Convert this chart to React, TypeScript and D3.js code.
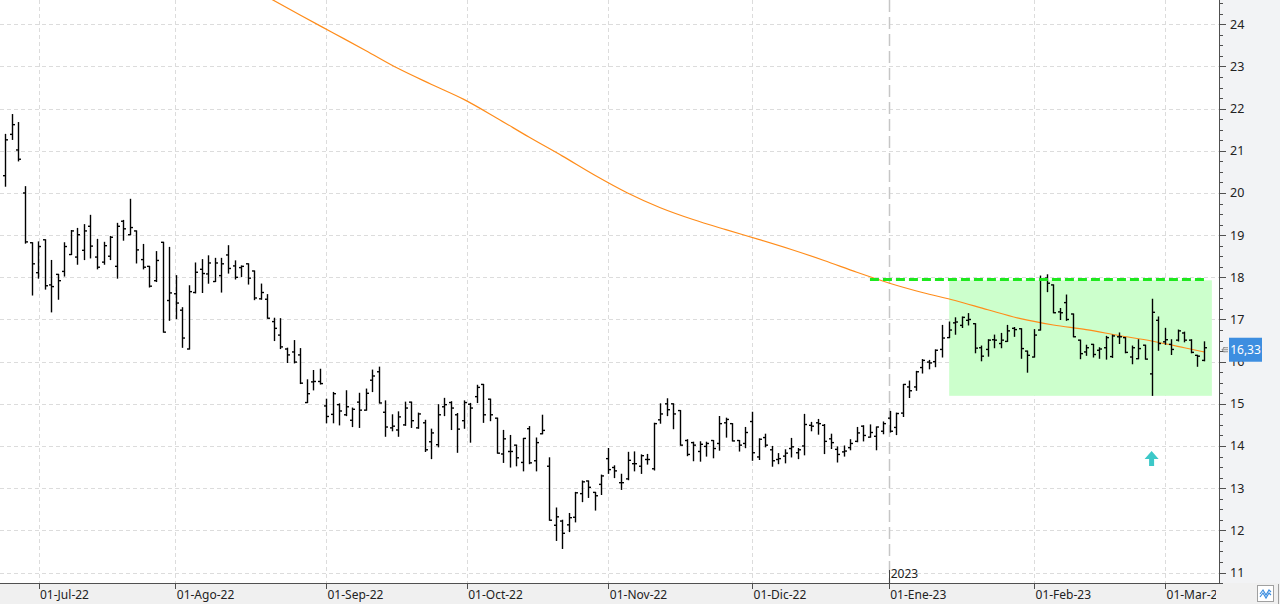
import React from "react";
import * as d3 from "d3";

const W = 1280;
const H = 604;

// OHLC per trading day (24-Jun-2022 .. 09-Mar-2023)
const opens = [
  20.41, 21.39, 21.02, 20.0, 18.82, 18.11, 18.89, 17.82, 18.07, 18.14,
  18.54, 18.48, 18.64, 19.21, 18.48, 18.36, 18.5, 18.26, 19.33, 19.01,
  19.1, 18.42, 18.26, 17.92, 18.83, 17.45, 17.61, 17.22, 16.3, 17.64,
  18.19, 18.08, 17.9, 18.04, 18.53, 18.27, 18.23, 18.32, 18.15, 17.49,
  17.48, 16.95, 16.63, 16.3, 16.23, 16.16, 15.03, 15.52, 15.53, 14.95,
  14.75, 14.98, 14.74, 14.61, 15.04, 14.85, 15.56, 15.76, 14.8, 14.43,
  14.38, 14.5, 15.04, 14.43, 14.55, 14.1, 14.03, 14.93, 15.03, 14.74,
  14.6, 14.99, 15.17, 15.46, 15.11, 14.66, 13.81, 13.87, 14.02, 13.61,
  14.41, 13.65, 14.29, 13.52, 12.12, 12.22, 12.13, 12.31, 12.87, 13.17,
  12.9, 13.09, 13.7, 13.49, 13.13, 13.22, 13.58, 13.52, 13.68, 13.46,
  14.62, 15.0, 15.0, 14.84, 14.13, 14.08, 13.87, 13.99, 14.13, 14.06,
  14.55, 14.53, 14.13, 14.06, 14.58, 13.74, 14.2, 13.91, 13.68, 13.76,
  13.94, 13.84, 14.0, 14.49, 14.55, 14.49, 14.17, 13.92, 13.86, 13.96,
  14.11, 14.47, 14.21, 14.23, 14.35, 14.66, 14.44, 14.78, 15.4, 15.4,
  15.86, 15.99, 16.0, 16.29, 16.57, 16.92, 16.86, 16.98, 16.9, 16.33,
  16.29, 16.52, 16.43, 16.48, 16.79, 16.78, 16.25, 16.11, 16.75, 17.98,
  17.82, 17.18, 17.4, 17.13, 16.51, 16.23, 16.41, 16.27, 16.33, 16.12,
  16.59, 16.57, 16.11, 16.07, 16.39, 15.71, 16.98, 16.47, 16.41, 16.51,
  16.68, 16.51, 16.15, 16.03,
];
const highs = [
  21.39, 21.86, 21.67, 20.15, 18.82, 18.84, 18.89, 18.4, 18.07, 18.82,
  19.11, 19.16, 19.25, 19.47, 18.9, 18.83, 18.97, 19.28, 19.35, 19.85,
  19.1, 18.78, 18.26, 18.61, 18.83, 18.71, 18.04, 17.28, 17.8, 18.34,
  18.42, 18.51, 18.45, 18.45, 18.75, 18.39, 18.27, 18.32, 18.15, 17.84,
  17.59, 17.03, 17.02, 16.32, 16.5, 16.31, 15.57, 15.79, 15.82, 15.11,
  15.27, 15.0, 15.31, 14.9, 15.25, 15.35, 15.8, 15.87, 15.07, 14.74,
  14.81, 15.04, 15.04, 14.78, 14.61, 14.4, 14.98, 15.13, 15.05, 14.77,
  15.07, 15.01, 15.44, 15.46, 15.11, 14.66, 14.37, 14.25, 14.02, 14.18,
  14.46, 14.19, 14.73, 13.72, 12.53, 12.24, 12.4, 12.9, 13.17, 13.17,
  12.9, 13.31, 13.94, 13.53, 13.33, 13.85, 13.86, 13.79, 13.8, 14.54,
  15.0, 15.12, 15.0, 14.84, 14.15, 14.09, 14.1, 14.09, 14.13, 14.7,
  14.66, 14.53, 14.13, 14.44, 14.8, 14.17, 14.28, 13.99, 13.82, 13.91,
  14.18, 13.94, 14.75, 14.56, 14.63, 14.51, 14.28, 13.98, 14.0, 14.15,
  14.44, 14.48, 14.5, 14.45, 14.57, 14.82, 14.78, 15.46, 15.54, 15.77,
  16.05, 16.03, 16.28, 16.86, 16.94, 17.04, 17.06, 17.14, 16.9, 16.37,
  16.52, 16.63, 16.67, 16.86, 16.81, 16.78, 16.25, 16.76, 18.03, 18.06,
  17.82, 17.26, 17.58, 17.13, 16.51, 16.39, 16.41, 16.33, 16.6, 16.63,
  16.68, 16.57, 16.37, 16.52, 16.39, 17.48, 17.06, 16.79, 16.52, 16.75,
  16.7, 16.52, 16.15, 16.47,
];
const lows = [
  20.16, 21.27, 20.76, 18.81, 17.58, 17.98, 17.72, 17.18, 17.48, 18.03,
  18.54, 18.31, 18.42, 18.46, 18.2, 18.31, 18.42, 17.98, 18.88, 19.01,
  18.34, 18.2, 17.77, 17.9, 16.7, 16.98, 17.02, 16.34, 16.3, 17.63,
  17.64, 17.86, 17.9, 17.65, 18.1, 17.96, 18.02, 17.84, 17.47, 17.48,
  17.03, 16.5, 16.31, 15.98, 15.97, 15.48, 15.03, 15.33, 15.47, 14.55,
  14.55, 14.5, 14.72, 14.46, 14.44, 14.85, 15.29, 15.02, 14.23, 14.36,
  14.23, 14.49, 14.44, 14.42, 13.87, 13.7, 13.98, 14.72, 14.39, 13.85,
  14.42, 14.09, 15.03, 14.56, 14.6, 13.83, 13.61, 13.5, 13.53, 13.41,
  13.58, 13.41, 14.29, 12.24, 11.76, 11.57, 11.97, 12.2, 12.68, 12.78,
  12.48, 12.85, 13.35, 13.25, 12.97, 13.2, 13.41, 13.35, 13.57, 13.43,
  14.54, 14.72, 14.41, 14.02, 13.77, 13.65, 13.64, 13.76, 13.72, 13.9,
  14.21, 14.12, 13.88, 13.96, 13.66, 13.68, 13.98, 13.52, 13.58, 13.6,
  13.74, 13.7, 13.79, 14.36, 14.28, 13.82, 13.94, 13.62, 13.76, 13.91,
  14.1, 14.12, 14.21, 13.91, 14.29, 14.33, 14.27, 14.7, 15.15, 15.32,
  15.73, 15.83, 15.88, 16.11, 16.57, 16.65, 16.81, 16.87, 16.21, 16.02,
  16.13, 16.33, 16.33, 16.48, 16.6, 16.08, 15.75, 16.11, 16.75, 17.66,
  17.16, 17.0, 16.98, 16.59, 16.07, 16.15, 16.11, 16.08, 16.06, 16.1,
  16.43, 16.21, 15.95, 16.07, 16.06, 15.2, 16.27, 16.41, 16.17, 16.49,
  16.47, 16.21, 15.89, 16.02,
];
const closes = [
  21.26, 21.62, 20.8, 18.84, 18.32, 18.73, 17.8, 17.78, 17.92, 18.73,
  19.1, 19.01, 19.1, 18.74, 18.24, 18.75, 18.95, 19.21, 19.15, 19.18,
  18.65, 18.24, 17.79, 18.4, 16.7, 17.63, 17.39, 16.56, 17.66, 18.12,
  18.09, 18.34, 18.34, 18.32, 18.21, 18.0, 18.26, 17.98, 17.51, 17.64,
  17.03, 16.79, 16.35, 16.16, 15.99, 15.49, 15.24, 15.53, 15.48, 14.7,
  15.24, 14.83, 14.93, 14.87, 14.85, 15.25, 15.66, 15.02, 14.45, 14.47,
  14.69, 14.9, 14.6, 14.76, 13.91, 14.31, 14.74, 14.98, 14.9, 14.4,
  15.03, 14.9, 15.39, 14.74, 14.74, 13.83, 14.17, 13.87, 13.72, 14.18,
  13.6, 14.08, 14.37, 12.24, 12.32, 11.93, 12.3, 12.89, 13.15, 13.02,
  12.82, 13.29, 13.44, 13.41, 13.13, 13.66, 13.58, 13.77, 13.68, 14.53,
  14.76, 14.86, 14.76, 14.02, 13.8, 14.02, 14.04, 14.06, 13.94, 14.53,
  14.63, 14.12, 14.02, 14.32, 13.84, 14.16, 14.02, 13.65, 13.7, 13.83,
  13.98, 13.91, 14.51, 14.47, 14.53, 14.11, 14.08, 13.8, 13.88, 14.06,
  14.31, 14.25, 14.32, 14.45, 14.53, 14.35, 14.77, 15.46, 15.31, 15.76,
  16.03, 15.97, 16.27, 16.56, 16.75, 16.94, 17.05, 17.0, 16.32, 16.13,
  16.51, 16.51, 16.51, 16.73, 16.76, 16.31, 16.15, 16.63, 17.95, 17.86,
  17.16, 17.16, 17.0, 16.59, 16.19, 16.33, 16.17, 16.3, 16.57, 16.61,
  16.59, 16.22, 16.33, 16.31, 16.06, 17.17, 16.43, 16.52, 16.29, 16.73,
  16.51, 16.22, 16.13, 16.33,
];

// Long moving average, read at sampled bar indices
const maIdx = [40, 45, 50, 55, 60, 65, 70, 75, 80, 85, 90, 95, 100, 105, 110, 115, 120, 125, 130, 135, 140, 145, 150, 155, 160, 165, 170, 175, 180, 183];
const maVals = [24.65, 24.22, 23.8, 23.38, 22.95, 22.58, 22.22, 21.78, 21.32, 20.88, 20.42, 20.0, 19.65, 19.37, 19.13, 18.9, 18.66, 18.4, 18.12, 17.86, 17.64, 17.45, 17.23, 17.02, 16.87, 16.76, 16.62, 16.49, 16.33, 16.23];

// Month ticks (bar-index positions) and labels
const monthIdx = [5.07, 25.95, 48.96, 70.44, 92.06, 114, 134.87, 157.05, 177.05];
const monthLabels = ["01-Jul-22", "01-Ago-22", "01-Sep-22", "01-Oct-22", "01-Nov-22", "01-Dic-22", "01-Ene-23", "01-Feb-23", "01-Mar-23"];
const yearIdx = 134.87;
const yearLabel = "2023";

const yTicks = d3.range(11, 25);
const yMinor = d3.range(10.75, 25.01, 0.25);

// Annotations
const zoneStart = 144.1;
const zoneEnd = 184.2;
const zoneTop = 17.93;
const zoneBottom = 15.19;
const resistance = 17.95;
const resStart = 132;
const resEnd = 183;
const arrowIdx = 175;
const arrowVal = 13.88;

const FONT = "'Noto Sans', 'DejaVu Sans', sans-serif";

export default function App() {
  const plotR = 1219;
  const plotB = 583;
  const x = d3.scaleLinear().domain([0, 183]).range([5.3, 1204]);
  const y = d3.scaleLinear().domain([11, 24]).range([572.5, 24.3]);

  const maLine = d3
    .line<number>()
    .x((_, i) => x(maIdx[i]))
    .y((d) => y(d))
    .curve(d3.curveMonotoneX)(maVals) as string;

  const lastClose = closes[closes.length - 1];
  const ly = y(lastClose);
  const ax = x(arrowIdx);
  const ay = y(arrowVal);

  return (
    <svg
      width={W}
      height={H}
      style={{ position: "fixed", left: 0, top: 0, display: "block" }}
      fontFamily={FONT}
    >
      <defs>
        <clipPath id="plot">
          <rect x={0} y={0} width={plotR} height={plotB} />
        </clipPath>
        <clipPath id="xlab">
          <rect x={0} y={plotB} width={1216} height={H - plotB} />
        </clipPath>
      </defs>
      <rect x={0} y={0} width={W} height={H} fill="#ffffff" />
      <rect x={plotR} y={0} width={W - plotR} height={plotB} fill="#f2f3f5" />
      <rect x={0} y={plotB} width={W} height={H - plotB} fill="#f0f0f0" />

      <g clipPath="url(#plot)">
        {yTicks.map((t) => (
          <line key={"gy" + t} x1={0} x2={plotR} y1={Math.round(y(t)) + 0.5} y2={Math.round(y(t)) + 0.5} stroke="#dcdcdc" strokeDasharray="4,3" />
        ))}
        {monthIdx.map((m, i) =>
          i === 6 ? null : (
            <line key={"gx" + i} x1={Math.round(x(m)) + 0.5} x2={Math.round(x(m)) + 0.5} y1={0} y2={plotB} stroke="#dcdcdc" strokeDasharray="4,3" />
          )
        )}
        <rect
          x={x(zoneStart)}
          y={y(zoneTop)}
          width={x(zoneEnd) - x(zoneStart)}
          height={y(zoneBottom) - y(zoneTop)}
          fill="#ccffcc"
        />
        <line
          x1={Math.round(x(yearIdx)) + 0.5}
          x2={Math.round(x(yearIdx)) + 0.5}
          y1={0}
          y2={plotB}
          stroke="#c6c6c6"
          strokeWidth={1.5}
          strokeDasharray="12,5"
        />
        <path d={maLine} fill="none" stroke="#ff8c1a" strokeWidth={1.2} />
        <g stroke="#000" strokeWidth={1.4}>
          {closes.map((c, i) => {
            const cx = Math.round(x(i)) + 0.5;
            return (
              <g key={"b" + i}>
                <line x1={cx} x2={cx} y1={y(highs[i]) - 0.5} y2={y(lows[i]) + 0.5} />
                <line x1={cx - 2.5} x2={cx} y1={y(opens[i])} y2={y(opens[i])} />
                <line x1={cx} x2={cx + 2.5} y1={y(c)} y2={y(c)} />
              </g>
            );
          })}
        </g>
        <line
          x1={x(resStart)}
          x2={x(resEnd)}
          y1={y(resistance)}
          y2={y(resistance)}
          stroke="#1ee81e"
          strokeWidth={3}
          strokeDasharray="9,4"
        />
        <path
          d={`M${ax},${ay} L${ax + 7},${ay + 8} L${ax + 2.5},${ay + 8} L${ax + 2.5},${ay + 15} L${ax - 2.5},${ay + 15} L${ax - 2.5},${ay + 8} L${ax - 7},${ay + 8} Z`}
          fill="#3cc8c8"
        />
        <line x1={Math.round(x(yearIdx)) + 0.5} x2={Math.round(x(yearIdx)) + 0.5} y1={570} y2={plotB} stroke="#444" />
        <text x={x(yearIdx) + 2} y={578} fontSize={12} fill="#222">
          {yearLabel}
        </text>
      </g>

      {/* axes */}
      <line x1={plotR + 0.5} x2={plotR + 0.5} y1={0} y2={plotB} stroke="#505050" />
      <line x1={0} x2={plotR} y1={plotB + 0.5} y2={plotB + 0.5} stroke="#505050" />
      {yMinor.map((t, i) => (
        <line key={"my" + i} x1={plotR} x2={plotR + 4} y1={Math.round(y(t)) + 0.5} y2={Math.round(y(t)) + 0.5} stroke="#505050" />
      ))}
      {yTicks.map((t) => (
        <g key={"ty" + t}>
          <line x1={plotR} x2={plotR + 7} y1={Math.round(y(t)) + 0.5} y2={Math.round(y(t)) + 0.5} stroke="#505050" />
          <text x={1230} y={y(t)} dy="0.36em" fontSize={12.5} fill="#222">
            {t}
          </text>
        </g>
      ))}
      {monthIdx.map((m, i) => (
        <line key={"tx" + i} x1={Math.round(x(m)) + 0.5} x2={Math.round(x(m)) + 0.5} y1={plotB} y2={plotB + 6} stroke="#505050" />
      ))}
      <g clipPath="url(#xlab)">
        {monthIdx.map((m, i) => (
          <text key={"lx" + i} x={x(m) + 1.5} y={599} fontSize={12} fill="#222">
            {monthLabels[i]}
          </text>
        ))}
      </g>

      {/* last price label */}
      <path d={`M1228,${ly + 2} L1222,${ly + 2} M1224.5,${ly - 0.5} L1222,${ly + 2} L1224.5,${ly + 4.5} M1228,${ly} L1223,${ly} M1228,${ly + 4} L1223,${ly + 4}`} stroke="#777" fill="none" strokeWidth={0.8} />
      <rect x={1229} y={ly - 10} width={33} height={24} fill="#3d8ee0" />
      <text x={1245.5} y={ly + 2} dy="0.36em" fontSize={12} fill="#ffffff" textAnchor="middle">
        {lastClose.toFixed(2).replace(".", ",")}
      </text>

      {/* bottom-right icon */}
      <rect x={1257.5} y={585.5} width={16} height={16} fill="#ffffff" stroke="#a0a0a0" />
      <polyline points="1260,594 1263,590 1266,595 1269,590 1271,592" fill="none" stroke="#3d8ee0" strokeWidth={1.2} />
      <polyline points="1260,597 1263,593 1266,598 1269,593 1271,595" fill="none" stroke="#3d8ee0" strokeWidth={1.2} />
      <line x1={1278.5} x2={1278.5} y1={584} y2={604} stroke="#a0a0a0" />
    </svg>
  );
}
